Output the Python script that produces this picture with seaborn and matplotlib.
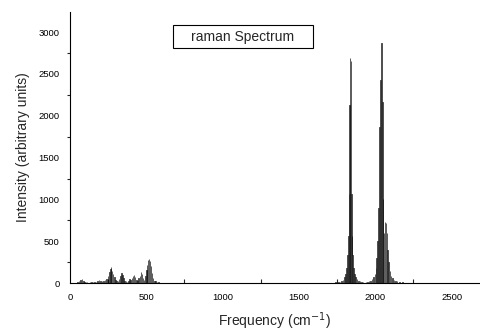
import numpy as np
import pandas as pd
import matplotlib
matplotlib.use("Agg")
import matplotlib.pyplot as plt
from matplotlib.ticker import MultipleLocator
from matplotlib.patches import Rectangle
import seaborn as sns

# ---- data ----
low_freq = [40, 50, 60, 70, 80, 88, 96, 104, 112, 120, 130, 140, 150, 160, 170, 180, 190,
            200, 210, 220, 230, 240, 250, 258, 264, 270, 276, 282, 290, 298, 306, 314, 322,
            330, 338, 344, 350, 358, 366, 374, 382, 390, 398, 406, 414, 420, 426, 434, 442,
            450, 458, 466, 472, 478, 486, 494, 500, 506, 512, 518, 524, 530, 536, 544, 552,
            560, 570, 580, 590, 600]
low_int = [5, 15, 25, 35, 45, 30, 15, 10, 8, 5, 8, 10, 8, 10, 15, 25, 40,
           30, 20, 25, 35, 50, 80, 130, 170, 190, 150, 110, 70, 40, 25, 30, 50,
           80, 120, 100, 60, 30, 20, 15, 30, 50, 40, 60, 80, 95, 70, 40, 30,
           60, 90, 130, 110, 60, 40, 80, 160, 220, 280, 290, 260, 200, 120, 60, 30,
           20, 12, 8, 5, 3]

peak1_freq = [1700, 1720, 1740, 1760, 1770, 1780, 1790, 1800, 1806, 1812, 1818, 1824, 1828,
              1832, 1836, 1840, 1844, 1848, 1852, 1858, 1864, 1870, 1880, 1890, 1900, 1910,
              1920, 1930]
peak1_int = [3, 5, 8, 10, 15, 25, 40, 70, 110, 180, 330, 560, 1070,
             2130, 2690, 2650, 1060, 560, 330, 180, 110, 70, 45, 30, 20, 15,
             10, 6]

peak2_freq = [1940, 1950, 1960, 1970, 1980, 1990, 1998, 2004, 2010, 2016, 2022, 2028, 2034,
              2040, 2046, 2052, 2058, 2064, 2070, 2076, 2082, 2088, 2096, 2104, 2114, 2124,
              2134, 2144, 2160, 2180, 2200, 2220]
peak2_int = [10, 15, 20, 30, 45, 70, 110, 180, 300, 500, 900, 1870, 2430,
             2870, 2170, 1000, 600, 730, 720, 600, 400, 250, 150, 90, 60, 40,
             30, 20, 15, 10, 6, 3]

title_text = "raman Spectrum"
x_label = "Frequency (cm$^{-1}$)"
y_label = "Intensity (arbitrary units)"

df = pd.DataFrame({
    "freq": low_freq + peak1_freq + peak2_freq,
    "intensity": low_int + peak1_int + peak2_int,
})

sns.set_style("white")
plt.rcParams["font.family"] = ["Liberation Sans", "DejaVu Sans"]

fig = plt.figure(figsize=(4.81, 3.35), dpi=100)
ax = fig.add_axes([0.1455, 0.155, 0.852, 0.809])

sns.barplot(data=df, x="freq", y="intensity", native_scale=True, errorbar=None,
            color="#b4b4b4", edgecolor="black", linewidth=0.45, width=0.9,
            saturation=1, ax=ax)

ax.set_xlim(0, 2685)
ax.set_ylim(0, 3240)
ax.xaxis.set_major_locator(MultipleLocator(500))
ax.xaxis.set_minor_locator(MultipleLocator(250))
ax.yaxis.set_major_locator(MultipleLocator(500))
ax.yaxis.set_minor_locator(MultipleLocator(250))

for s in ["top", "right"]:
    ax.spines[s].set_visible(False)
for s in ["left", "bottom"]:
    ax.spines[s].set_color("black")
    ax.spines[s].set_linewidth(0.8)

ax.tick_params(axis="both", which="major", labelsize=6.8, colors="black", length=4, width=0.8)
ax.tick_params(axis="x", which="major", direction="inout", length=6, pad=4)
ax.tick_params(axis="x", which="minor", direction="in", length=3, width=0.8, bottom=True)
ax.tick_params(axis="y", which="major", direction="out", length=4)
ax.tick_params(axis="y", which="minor", direction="out", length=2, width=0.8, left=True)

ax.set_xlabel(x_label, fontsize=10, labelpad=6)
ax.set_ylabel(y_label, fontsize=10, labelpad=6)

ax.add_patch(Rectangle((0.251, 0.867), 0.342, 0.085, transform=ax.transAxes,
                       facecolor="white", edgecolor="black", linewidth=0.8, zorder=5))
ax.text(0.422, 0.909, title_text, transform=ax.transAxes, ha="center", va="center",
        fontsize=10, zorder=6)

fig.savefig("out.png", dpi=100)
